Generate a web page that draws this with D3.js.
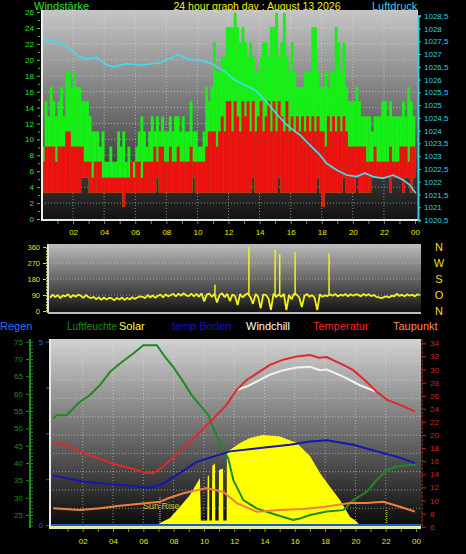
<!DOCTYPE html>
<html>
<head>
<meta charset="utf-8">
<script src="https://cdn.jsdelivr.net/npm/d3@7"></script>
<style>
  html, body { margin: 0; padding: 0; background: #000; }
  svg { display: block; font-family: "Liberation Sans", Arial, sans-serif; }
</style>
</head>
<body>
<svg id="chart" width="466" height="554"></svg>
<script>
// ─── Data ──────────────────────────────────────────────────────────

const hourTicks = [2, 4, 6, 8, 10, 12, 14, 16, 18, 20, 22, 24];
const hourLabels = ['02', '04', '06', '08', '10', '12', '14', '16', '18', '20', '22', '00'];

// wind, 10 minute bins (km/h): low / high of the wind trace, high of the gust trace
const windLo = [
  3.3, 3.3, 3.3, 3.3, 3.3, 3.3,   3.3, 3.3, 3.3, 3.3, 3.3, 3.3,
  3.3, 3.3, 3.3, 5.2, 5.2, 5.2,   3.3, 3.3, 3.3, 3.3, 3.3, 3.3,
  3.3, 3.3, 3.3, 3.3, 3.3, 3.3,   3.3, 1.5, 3.3, 3.3, 3.3, 3.3,
  3.3, 3.3, 3.3, 3.3, 3.3, 3.3,   3.3, 3.3, 5.2, 3.3, 3.3, 3.3,
  3.3, 3.3, 3.3, 3.3, 3.3, 3.3,   3.3, 3.3, 3.3, 3.3, 5.2, 3.3,
  3.3, 3.3, 3.3, 3.3, 3.3, 3.3,   3.3, 3.3, 3.3, 3.3, 3.3, 3.3,
  3.3, 3.3, 3.3, 3.3, 3.3, 3.3,   3.3, 3.3, 3.3, 5.2, 3.3, 3.3,
  3.3, 3.3, 3.3, 3.3, 3.3, 3.3,   3.3, 5.2, 3.3, 3.3, 3.3, 3.3,
  3.3, 3.3, 3.3, 3.3, 3.3, 3.3,   3.3, 3.3, 3.3, 3.3, 5.2, 3.3,
  1.5, 3.3, 3.3, 3.3, 3.3, 3.3,   3.3, 3.3, 5.2, 3.3, 3.3, 3.3,
  3.3, 5.2, 3.3, 3.3, 3.3, 3.3,   3.3, 5.2, 5.2, 5.2, 5.2, 5.2,
  5.2, 5.2, 3.3, 5.2, 5.2, 5.2,   5.2, 3.3, 5.2, 5.2, 3.3, 5.2
];
const windHi = [
  7.2, 9.1, 9.1, 9.1, 9.1, 7.2,   9.1, 9.1, 9.1, 11, 11, 9.1,
  9.1, 9.1, 9.1, 9.1, 7.2, 7.2,   7.2, 5.2, 7.2, 7.2, 7.2, 5.2,
  5.2, 5.2, 5.2, 5.2, 5.2, 5.2,   5.2, 5.2, 5.2, 5.2, 7.2, 5.2,
  7.2, 7.2, 5.2, 7.2, 7.2, 7.2,   7.2, 9.1, 7.2, 9.1, 9.1, 7.2,
  7.2, 9.1, 7.2, 7.2, 9.1, 7.2,   7.2, 7.2, 7.2, 9.1, 7.2, 7.2,
  7.2, 7.2, 7.2, 9.1, 11, 11,     11, 9.1, 11, 12.9, 11, 14.8,
  14.8, 11, 14.8, 12.9, 11, 14.8,   12.9, 14.8, 11, 14.8, 11, 12.9,
  14.8, 11, 12.9, 14.8, 11, 14.8,   11, 14.8, 12.9, 11, 14.8, 11,
  12.9, 11, 12.9, 11, 12.9, 11,     12.9, 11, 12.9, 11, 12.9, 11,
  11, 9.1, 12.9, 11, 12.9, 11,      12.9, 11, 12.9, 11, 9.1, 9.1,
  9.1, 9.1, 9.1, 9.1, 9.1, 7.2,   7.2, 7.2, 9.1, 7.2, 7.2, 7.2,
  7.2, 7.2, 9.1, 7.2, 7.2, 7.2,   9.1, 9.1, 9.1, 7.2, 9.1, 9.1
];
const gustHi = [
  9.1, 14.8, 12.9, 16.6, 14.8, 12.9,    14.8, 16.6, 12.9, 18.5, 18.5, 16.6,
  18.5, 16.6, 16.6, 14.8, 14.8, 14.8,   12.9, 11, 11, 11, 9.1, 11,
  7.2, 7.2, 9.1, 7.2, 7.2, 11,          9.1, 11, 7.2, 9.1, 7.2, 7.2,
  9.1, 11, 12.9, 11, 9.1, 11,           12.9, 11, 12.9, 11, 12.9, 11,
  11, 12.9, 11, 12.9, 12.9, 11,         12.9, 11, 11, 14.8, 11, 11,
  9.1, 9.1, 11, 16.6, 14.8, 16.6,       22.2, 18.5, 18.5, 20.4, 20.4, 24.1,
  24.1, 24.1, 25.9, 24.1, 22.2, 24.1,   22.2, 20.4, 22.2, 20.4, 18.5, 18.5,
  20.4, 22.2, 22.2, 20.4, 24.1, 24.1,   25.9, 20.4, 22.2, 25.9, 20.4, 18.5,
  22.2, 18.5, 16.6, 16.6, 16.6, 18.5,   18.5, 18.5, 24.1, 24.1, 18.5, 16.6,
  16.6, 18.5, 16.6, 18.5, 18.5, 24.1,   22.2, 18.5, 22.2, 16.6, 14.8, 14.8,
  14.8, 16.6, 14.8, 12.9, 12.9, 12.9,   12.9, 11, 12.9, 12.9, 12.9, 14.8,
  14.8, 12.9, 14.8, 12.9, 12.9, 12.9,   12.9, 14.8, 12.9, 16.6, 14.8, 12.9
];

// air pressure (hPa)
const pressHours = [0, 0.84, 1.59, 2.33, 2.87, 3.52, 4.16, 4.57, 5.45, 6.5, 7.59, 8.23, 8.77,
  9.41, 10.05, 10.9, 11.77, 12.41, 13.05, 13.7, 14.34, 14.98, 15.63, 16.16, 16.6, 17.23, 17.88,
  18.31, 18.95, 19.6, 20.24, 20.77, 21.3, 21.94, 22.59, 23.23, 23.67, 24.05];
const pressValues = [1027.58, 1027.52, 1027.29, 1026.92, 1026.79, 1026.87, 1026.57, 1026.5, 1026.61,
  1026.57, 1026.66, 1026.83, 1026.98, 1026.79, 1026.77, 1026.63, 1026.31, 1025.98, 1025.79, 1025.59,
  1025.2, 1024.74, 1024.29, 1024.02, 1023.83, 1023.44, 1023.05, 1022.72, 1022.46, 1022.26, 1022.2,
  1022.33, 1022.2, 1022.13, 1022.26, 1022.07, 1021.87, 1021.55];

// wind direction (deg), every 10 minutes 00:00 .. 24:00
const dirDeg = [
  74, 92, 78, 90, 72, 88,   82, 94, 76, 90, 80, 92,   86, 74, 90, 78, 72, 80,
  66, 78, 62, 76, 64, 74,   72, 60, 74, 64, 76, 62,   74, 64, 78, 68, 76, 82,
  80, 72, 90, 76, 88, 74,   86, 92, 76, 94, 82, 90,   96, 82, 98, 86, 100, 88,
  84, 98, 82, 96, 80, 100,  54, 92, 98, 80, 96, 48,   90, 100, 78, 96, 56, 92,
  84, 34, 96, 76, 92, 100,  78, 40, 96, 80, 15, 94,   90, 72, 6, 98, 78, 94,
  80, 96, 5, 90, 66, 98,    92, 76, 22, 84, 96, 80,   90, 74, 5, 94, 80, 88,
  84, 94, 86, 96, 82, 92,   86, 96, 82, 94, 86, 94,   92, 82, 96, 86, 94, 84,
  90, 80, 76, 72, 78, 82,   76, 86, 82, 98, 84, 92,   82, 94, 86, 92, 82, 94,
  90
];
const dirSpikeHours = [10.7, 12.9, 14.6, 14.9, 15.9, 18.1];
const dirSpikeBase = [88, 86, 84, 86, 88, 90];
const dirSpikeDeg = [147, 360, 345, 320, 330, 325];
const dirLetters = ['N', 'W', 'S', 'O', 'N'];
const dirLetterDeg = [360, 270, 180, 90, 0];

// lower panel series
const tempHours = [0.06, 0.94, 2.04, 3.14, 4.02, 5.34, 6.22, 6.66, 7.32, 7.98, 9.09, 10.41, 11.5,
  12.16, 12.82, 13.7, 14.36, 15.24, 16.13, 17.0, 17.6, 18.1, 19.2, 19.86, 20.75, 21.4, 22.07, 22.94, 23.93];
const tempValues = [18.9, 18.5, 17.2, 16.4, 15.6, 14.8, 14.2, 14.2, 15.2, 16.6, 19.0, 22.0, 24.6,
  26.9, 28.4, 29.7, 30.7, 31.5, 32.0, 32.2, 31.8, 31.9, 30.7, 29.9, 28.1, 26.6, 25.4, 24.6, 23.6];

const chillHours = [12.2, 12.82, 13.7, 14.36, 15.24, 16.13, 17.0, 17.66, 18.1, 19.2, 20.3, 21.4];
const chillValues = [26.9, 27.4, 28.4, 29.2, 29.9, 30.3, 30.4, 29.9, 30.0, 28.9, 27.6, 26.6];

const humHours = [0.06, 0.28, 0.94, 1.27, 1.82, 2.48, 3.14, 3.8, 4.46, 5.34, 6.0, 6.66, 6.9, 7.43,
  7.98, 8.64, 9.19, 9.74, 10.29, 10.73, 11.18, 11.61, 11.94, 12.6, 13.48, 14.8, 15.9, 16.34, 17.0,
  18.1, 19.2, 19.86, 20.75, 21.4, 22.07, 22.72, 23.6, 24.0];
const humValues = [52.9, 53.8, 53.8, 55.3, 57.7, 59.6, 62.5, 66.3, 68.7, 71.6, 74, 74, 74, 70.6,
  67.7, 63.4, 59.6, 56.7, 53.8, 49, 44.7, 41.3, 35.1, 29.3, 26.9, 25, 23.6, 24, 25,
  26, 26.4, 29.3, 31.7, 35.1, 38, 39, 39.4, 39.4];

const soilHours = [0.06, 2.04, 3.8, 5.34, 6.44, 7.32, 8.42, 9.52, 10.62, 11.72, 13.7, 15.68, 17.0,
  18.1, 19.86, 21.4, 22.72, 23.93];
const soilValues = [13.8, 12.9, 12.5, 12.2, 11.9, 12.6, 14.2, 15.9, 16.7, 17.5, 18.0, 18.5, 19.0,
  19.2, 18.5, 17.5, 16.7, 15.7];

const dewHours = [0.06, 1.82, 3.14, 4.46, 5.78, 7.1, 7.6, 8.64, 10.2, 11.28, 12.17, 13.48, 15.02,
  16.56, 17.88, 19.64, 20.75, 21.84, 22.94, 23.93];
const dewValues = [8.8, 8.55, 8.8, 9.2, 9.5, 9.8, 10.3, 11.1, 11.9, 11.3, 9.6, 8.3, 8.55,
  8.7, 9.0, 9.6, 9.6, 9.8, 9.05, 8.3];

// solar radiation (W/m²), with the cloud gaps before noon
const solarHours = [6.9, 7.1, 7.76, 8.42, 9.08, 9.74, 9.8, 10.22, 10.25, 10.34, 10.36, 10.53, 10.55,
  10.73, 10.75, 10.97, 11.0, 11.26, 11.28, 11.5, 11.52, 11.72, 12.38, 13.04, 13.9, 15.02, 16.13,
  17.0, 17.66, 18.32, 18.98, 19.64, 20.1, 20.3];
const solarValues = [0, 16, 43, 103, 166, 257, 30, 30, 265, 273, 30, 30, 320,
  335, 30, 30, 300, 308, 30, 30, 397, 406, 444, 471, 487, 478, 444,
  374, 283, 210, 139, 50, 23, 0];
const sunRise = 7.1;
const sunSet = 22.07;

const rainValue = 0;

const legendNames = ['Regen', 'Luftfeuchte', 'Solar', 'temp Boden', 'Windchill', 'Temperatur', 'Taupunkt'];
const legendColors = ['#2f6cff', '#1f8a1f', '#ffff30', '#1212c8', '#ffffff', '#ff2020', '#ff8a55'];
const legendX = [0, 67, 119, 172, 246, 313, 393];

// ─── Drawing ───────────────────────────────────────────────────────

const svg = d3.select('#chart');
const defs = svg.append('defs');

function gradient(id, c0, c1) {
  const g = defs.append('linearGradient').attr('id', id)
    .attr('x1', 0).attr('y1', 0).attr('x2', 0).attr('y2', 1);
  g.append('stop').attr('offset', '0%').attr('stop-color', c0);
  g.append('stop').attr('offset', '100%').attr('stop-color', c1);
}
gradient('bgTop', '#c6c6c6', '#121212');
gradient('bgMid', '#bcbcbc', '#111111');
gradient('bgBot', '#d2d2d2', '#080808');

function dotted(sel) {
  return sel.attr('stroke', '#e6e6e6').attr('stroke-opacity', 0.55)
    .attr('stroke-width', 1).attr('stroke-dasharray', '1,2');
}

function styleAxis(g, color, size) {
  g.select('.domain').attr('stroke', color);
  g.selectAll('.tick line').attr('stroke', color);
  g.selectAll('.tick text').attr('fill', color).attr('font-size', size || 8)
    .attr('font-family', '"Liberation Sans", Arial, sans-serif');
}

const commaFmt = v => Number.isInteger(v) ? String(v) : v.toFixed(1).replace('.', ',');

// ─── Top: wind speed + pressure ────────────────────────────────────

const boxTop = { x0: 42, x1: 418, y0: 10, y1: 220 };
const xTop = d3.scaleLinear().domain([0, 24]).range([42, 415]);
const yWind = d3.scaleLinear().domain([0, 24]).range([219, 28]);
const yPress = d3.scaleLinear().domain([1020.5, 1028.5]).range([220, 15.7]);

svg.append('rect').attr('x', boxTop.x0).attr('y', boxTop.y0)
  .attr('width', boxTop.x1 - boxTop.x0).attr('height', boxTop.y1 - boxTop.y0).attr('fill', 'url(#bgTop)');

const gTop = svg.append('g');
gTop.selectAll('line.vg').data(d3.range(2, 24, 2)).enter().append('line')
  .attr('x1', d => xTop(d)).attr('x2', d => xTop(d)).attr('y1', boxTop.y0).attr('y2', boxTop.y1)
  .call(dotted);
gTop.selectAll('line.hg').data(d3.range(2, 26, 2)).enter().append('line')
  .attr('x1', boxTop.x0).attr('x2', boxTop.x1).attr('y1', d => yWind(d)).attr('y2', d => yWind(d))
  .call(dotted);

const binW = xTop(1 / 6) - xTop(0);
const bins = windLo.map((lo, i) => ({ h: i / 6, lo, hi: windHi[i], gust: gustHi[i] }));

gTop.selectAll('rect.gust').data(bins).enter().append('rect')
  .attr('x', d => xTop(d.h)).attr('width', binW + 0.3)
  .attr('y', d => yWind(d.gust)).attr('height', d => yWind(d.lo) - yWind(d.gust))
  .attr('fill', '#16f016');
gTop.selectAll('rect.wind').data(bins).enter().append('rect')
  .attr('x', d => xTop(d.h)).attr('width', binW + 0.3)
  .attr('y', d => yWind(d.hi)).attr('height', d => yWind(d.lo) - yWind(d.hi))
  .attr('fill', '#ee1010');

gTop.append('path')
  .datum(pressHours.map((h, i) => [h, pressValues[i]]))
  .attr('fill', 'none').attr('stroke', '#44dcec').attr('stroke-width', 1.7)
  .attr('d', d3.line().x(d => xTop(d[0])).y(d => yPress(d[1])));

// frame
svg.append('line').attr('x1', boxTop.x0).attr('x2', boxTop.x0).attr('y1', boxTop.y0).attr('y2', boxTop.y1 + 1)
  .attr('stroke', '#e8f0e8').attr('stroke-width', 2);
svg.append('line').attr('x1', boxTop.x0).attr('x2', boxTop.x1).attr('y1', boxTop.y1).attr('y2', boxTop.y1)
  .attr('stroke', '#e8e8e8').attr('stroke-width', 2);

const axWind = svg.append('g').attr('transform', `translate(${boxTop.x0 - 2},0)`)
  .call(d3.axisLeft(yWind).tickValues(d3.range(0, 27, 2)).tickSize(3).tickFormat(d3.format('d')));
styleAxis(axWind, '#2fe02f');
axWind.select('.domain').remove();
svg.append('g').attr('transform', `translate(${boxTop.x0 - 2},0)`)
  .call(d3.axisLeft(yWind).tickValues(d3.range(1, 26, 2)).tickSize(2).tickFormat(''))
  .call(g => styleAxis(g, '#2fe02f'))
  .call(g => g.select('.domain').remove());

const axPress = svg.append('g').attr('transform', `translate(${boxTop.x1},0)`)
  .call(d3.axisRight(yPress).tickValues(d3.range(1020.5, 1028.6, 0.5)).tickSize(3).tickFormat(commaFmt));
styleAxis(axPress, '#38cfe0');
axPress.select('.domain').attr('stroke-width', 2);

const axTopX = svg.append('g').attr('transform', `translate(0,${boxTop.y1 + 1})`)
  .call(d3.axisBottom(xTop).tickValues(d3.range(1, 25)).tickSize(3)
    .tickFormat(h => { const k = hourTicks.indexOf(h); return k < 0 ? '' : hourLabels[k]; }));
styleAxis(axTopX, '#e8e800');
axTopX.select('.domain').remove();
axTopX.selectAll('.tick line').attr('stroke', '#8a8a40');
axTopX.selectAll('.tick text').attr('dy', '0.95em');

svg.append('text').attr('x', 34).attr('y', 10).attr('fill', '#2fe02f').attr('font-size', 11).text('Windstärke');
svg.append('text').attr('x', 257).attr('y', 10).attr('text-anchor', 'middle').attr('fill', '#f0f000')
  .attr('font-size', 10.5).text('24 hour graph day : August 13 2026');
svg.append('text').attr('x', 372).attr('y', 10).attr('fill', '#38cfe0').attr('font-size', 11).text('Luftdruck');

// ─── Middle: wind direction ────────────────────────────────────────

const boxMid = { x0: 48, x1: 421, y0: 244, y1: 313 };
const xMid = d3.scaleLinear().domain([0, 24]).range([50, 420]);
const yDir = d3.scaleLinear().domain([0, 360]).range([311, 247]);

svg.append('rect').attr('x', boxMid.x0).attr('y', boxMid.y0)
  .attr('width', boxMid.x1 - boxMid.x0).attr('height', boxMid.y1 - boxMid.y0).attr('fill', 'url(#bgMid)');
svg.selectAll('line.mg').data([90, 180, 270, 360]).enter().append('line')
  .attr('x1', boxMid.x0).attr('x2', boxMid.x1).attr('y1', d => yDir(d)).attr('y2', d => yDir(d))
  .call(dotted);

svg.append('path')
  .datum(dirDeg.map((d, i) => [i / 6, d]))
  .attr('fill', 'none').attr('stroke', '#f2f21a').attr('stroke-width', 1.8)
  .attr('stroke-linejoin', 'bevel')
  .attr('d', d3.line().x(d => xMid(d[0])).y(d => yDir(d[1])));
svg.selectAll('line.spike').data(dirSpikeHours).enter().append('line')
  .attr('x1', d => xMid(d)).attr('x2', d => xMid(d))
  .attr('y1', (d, i) => yDir(dirSpikeBase[i])).attr('y2', (d, i) => yDir(dirSpikeDeg[i]))
  .attr('stroke', '#f2f21a').attr('stroke-width', 1.5);

svg.append('line').attr('x1', boxMid.x0).attr('x2', boxMid.x0).attr('y1', boxMid.y0).attr('y2', boxMid.y1)
  .attr('stroke', '#e0e0e0').attr('stroke-width', 2);
svg.append('line').attr('x1', boxMid.x0).attr('x2', boxMid.x1).attr('y1', boxMid.y1).attr('y2', boxMid.y1)
  .attr('stroke', '#bdbdbd').attr('stroke-width', 2);

const axDir = svg.append('g').attr('transform', `translate(${boxMid.x0 - 2},0)`)
  .call(d3.axisLeft(yDir).tickValues([0, 90, 180, 270, 360]).tickSize(3));
styleAxis(axDir, '#e0e020', 7.5);
axDir.select('.domain').attr('stroke-dasharray', '2,1').attr('stroke', '#a0a040');

svg.selectAll('text.dirl').data(dirLetters).enter().append('text')
  .attr('x', 439).attr('y', (d, i) => yDir(dirLetterDeg[i]) + 4)
  .attr('text-anchor', 'middle').attr('fill', '#f0e000').attr('font-size', 11).text(d => d);

// ─── Legend ────────────────────────────────────────────────────────

svg.selectAll('text.leg').data(legendNames).enter().append('text')
  .attr('x', (d, i) => legendX[i]).attr('y', 330)
  .attr('fill', (d, i) => legendColors[i]).attr('font-size', 11).text(d => d)
  .filter(d => d === 'Luftfeuchte')
  .attr('textLength', 50).attr('lengthAdjust', 'spacingAndGlyphs');

// ─── Bottom: temperatures, humidity, solar ─────────────────────────

const boxBot = { x0: 50, x1: 421, y0: 339, y1: 528 };
const xBot = d3.scaleLinear().domain([0, 24]).range([52.4, 416]);
const yTemp = d3.scaleLinear().domain([6, 34]).range([526.7, 343.3]);
const yHum = d3.scaleLinear().domain([25, 75]).range([515, 341.7]);
const yRain = d3.scaleLinear().domain([0, 5]).range([525, 341.7]);
const ySolar = d3.scaleLinear().domain([0, 1000]).range([526, 339]);

svg.append('rect').attr('x', boxBot.x0).attr('y', boxBot.y0)
  .attr('width', boxBot.x1 - boxBot.x0).attr('height', boxBot.y1 - boxBot.y0).attr('fill', 'url(#bgBot)');
svg.selectAll('line.bvg').data(d3.range(2, 24, 2)).enter().append('line')
  .attr('x1', d => xBot(d)).attr('x2', d => xBot(d)).attr('y1', boxBot.y0).attr('y2', boxBot.y1)
  .call(dotted);
svg.selectAll('line.bhg').data(d3.range(1, 10)).enter().append('line')
  .attr('x1', boxBot.x0).attr('x2', boxBot.x1)
  .attr('y1', d => yTemp(6 + 2.8 * d)).attr('y2', d => yTemp(6 + 2.8 * d))
  .call(dotted);

svg.append('path')
  .datum(solarHours.map((h, i) => [h, solarValues[i]]))
  .attr('fill', '#ffff00')
  .attr('d', d3.area().x(d => xBot(d[0])).y0(ySolar(0)).y1(d => ySolar(d[1])));

// sunrise / sunset markers
[sunRise, sunSet].forEach((h, i) => {
  svg.append('line').attr('x1', xBot(h)).attr('x2', xBot(h))
    .attr('y1', i === 0 ? 497 : 510).attr('y2', boxBot.y1)
    .attr('stroke', '#e8e040').attr('stroke-width', 1).attr('stroke-dasharray', '1,1');
});
svg.append('text').attr('x', xBot(sunRise) - 17).attr('y', 509)
  .attr('fill', '#d4c23a').attr('font-size', 9).text('Sun Rise');

// bottom strip + rain
svg.append('line').attr('x1', boxBot.x0).attr('x2', boxBot.x1).attr('y1', 527.5).attr('y2', 527.5)
  .attr('stroke', '#e6eda0').attr('stroke-width', 3);
svg.append('line').attr('x1', boxBot.x0).attr('x2', boxBot.x1)
  .attr('y1', yRain(rainValue)).attr('y2', yRain(rainValue))
  .attr('stroke', '#1d5fc0').attr('stroke-width', 2);

function series(hours, values, scale, color) {
  svg.append('path')
    .datum(hours.map((h, i) => [h, values[i]]))
    .attr('fill', 'none').attr('stroke', color).attr('stroke-width', 2)
    .attr('d', d3.line().x(d => xBot(d[0])).y(d => scale(d[1])));
}
series(humHours, humValues, yHum, '#1f8a1f');
series(dewHours, dewValues, yTemp, '#f08040');
series(soilHours, soilValues, yTemp, '#1414b8');
series(chillHours, chillValues, yTemp, '#f2f2f2');
series(tempHours, tempValues, yTemp, '#e02828');

svg.append('line').attr('x1', boxBot.x0).attr('x2', boxBot.x0).attr('y1', boxBot.y0).attr('y2', boxBot.y1 + 1)
  .attr('stroke', '#e8e8e8').attr('stroke-width', 2);

const axHum = svg.append('g').attr('transform', 'translate(30,0)')
  .call(d3.axisLeft(yHum).tickValues(d3.range(25, 76, 5)).tickSize(4));
styleAxis(axHum, '#1f8a1f');
axHum.select('.domain').attr('d', `M0,${boxBot.y0}V${boxBot.y1}`).attr('stroke-width', 2);
svg.append('g').attr('transform', 'translate(31,0)')
  .call(d3.axisRight(yHum).tickValues(d3.range(22, 76, 1)).tickSize(2).tickFormat(''))
  .call(g => styleAxis(g, '#1f8a1f'))
  .call(g => g.select('.domain').remove());

const axRain = svg.append('g').attr('transform', `translate(${boxBot.x0 - 1},0)`)
  .call(d3.axisLeft(yRain).tickValues([0, 1.25, 2.5, 3.75, 5]).tickSize(3)
    .tickFormat(v => (v === 0 || v === 5) ? String(v) : ''));
styleAxis(axRain, '#2f5fd0');
axRain.select('.domain').remove();

const axTemp = svg.append('g').attr('transform', `translate(${boxBot.x1 + 1},0)`)
  .call(d3.axisRight(yTemp).tickValues(d3.range(6, 35, 2)).tickSize(4));
styleAxis(axTemp, '#d82020');
axTemp.select('.domain').attr('d', `M0,${boxBot.y0}V${boxBot.y1}`).attr('stroke-dasharray', '3,1');
axTemp.selectAll('.tick text').attr('x', 8);

const axBotX = svg.append('g').attr('transform', `translate(0,${boxBot.y1 + 1})`)
  .call(d3.axisBottom(xBot).tickValues(d3.range(1, 25)).tickSize(3)
    .tickFormat(h => { const k = hourTicks.indexOf(h); return k < 0 ? '' : hourLabels[k]; }));
styleAxis(axBotX, '#e8e800');
axBotX.select('.domain').remove();
axBotX.selectAll('.tick line').attr('stroke', '#8a8a40');
axBotX.selectAll('.tick text').attr('dy', '1.1em');
</script>
</body>
</html>
